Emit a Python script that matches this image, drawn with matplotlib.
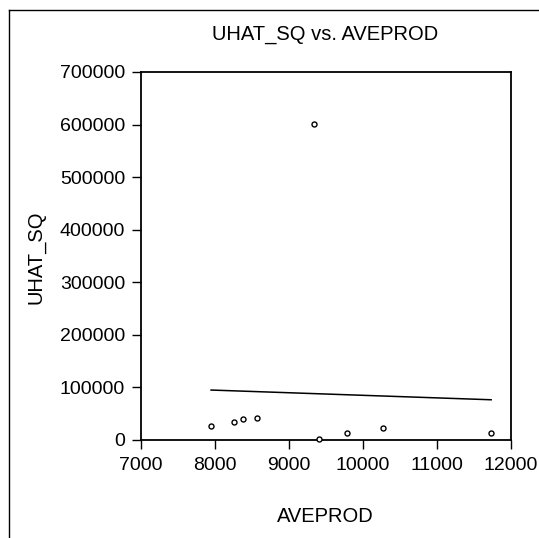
import numpy as np
import matplotlib
matplotlib.use("Agg")
import matplotlib.pyplot as plt
from matplotlib.lines import Line2D

plt.rcParams['font.family'] = ['Liberation Sans', 'DejaVu Sans']

aveprod = [7948, 8263, 8382, 8572, 9344, 9412, 9787, 10270, 11738]
uhat_sq = [27200, 34200, 39900, 42400, 602000, 2500, 12700, 22200, 12700]
x_ticks = [7000, 8000, 9000, 10000, 11000, 12000]
y_ticks = [0, 100000, 200000, 300000, 400000, 500000, 600000, 700000]

W, H = 539, 538
fig = plt.figure(figsize=(W / 100, H / 100), dpi=100)
ax = fig.add_axes([141 / W, 1 - 440 / H, (510.5 - 141) / W, (440 - 72) / H])

x = np.array(aveprod, dtype=float)
y = np.array(uhat_sq, dtype=float)
slope, intercept = np.polyfit(x, y, 1)
xl = np.array([x.min(), x.max()])
ax.plot(xl, intercept + slope * xl, color='black', lw=1.1)
ax.plot(x, y, linestyle='none', marker='o', markersize=3.6, clip_on=False,
        markerfacecolor='white', markeredgecolor='black', markeredgewidth=1.0,
        zorder=3)

ax.set_xlim(7000, 12000)
ax.set_ylim(0, 700000)
ax.set_xticks(x_ticks)
ax.set_yticks(y_ticks)
ax.set_xticklabels([str(v) for v in x_ticks])
ax.set_yticklabels([str(v) for v in y_ticks])
ax.tick_params(direction='out', length=6.5, width=1.0, labelsize=14,
               colors='black')
ax.tick_params(axis='x', pad=5.5)
ax.tick_params(axis='y', pad=5)
for s in ax.spines.values():
    s.set_linewidth(1.3)

fig.text(325.5 / W, 1 - 35 / H, 'UHAT_SQ vs. AVEPROD', ha='center', va='center',
         fontsize=14.5)
fig.text(325.5 / W, 1 - 516 / H, 'AVEPROD', ha='center', va='center', fontsize=14.5)
fig.text(36 / W, 1 - 257 / H, 'UHAT_SQ', ha='center', va='center', fontsize=14.5,
         rotation=90)

# outer frame (top and left edges)
fig.add_artist(Line2D([9 / W, 1], [1 - 10 / H, 1 - 10 / H], color='black', lw=1.0,
                      transform=fig.transFigure))
fig.add_artist(Line2D([9 / W, 9 / W], [0, 1 - 10 / H], color='black', lw=1.0,
                      transform=fig.transFigure))

fig.savefig('out.png', dpi=100)
